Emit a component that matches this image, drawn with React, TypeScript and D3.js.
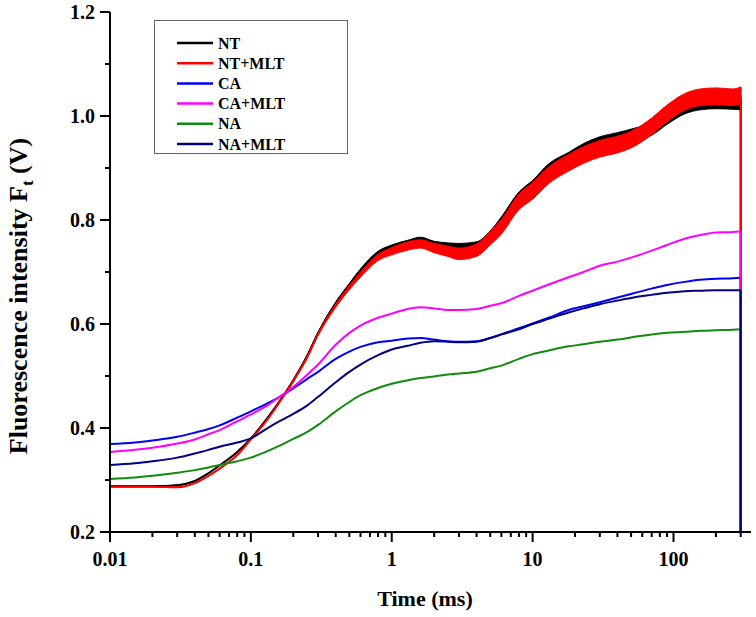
import React from "react";
import * as d3 from "d3";

// ---------- data ----------
const times = [0.01, 0.015, 0.02, 0.03, 0.04, 0.05, 0.06, 0.08, 0.1, 0.13, 0.16, 0.2, 0.25, 0.3, 0.4, 0.5, 0.6, 0.8, 1, 1.3, 1.6, 2, 2.5, 3, 4, 5, 6, 8, 10, 13, 18, 23, 30, 40, 52, 70, 90, 120, 155, 200, 265, 300];

const nt = [0.288, 0.288, 0.288, 0.29, 0.298, 0.313, 0.328, 0.354, 0.38, 0.418, 0.452, 0.492, 0.538, 0.583, 0.64, 0.675, 0.702, 0.735, 0.746, 0.755, 0.76, 0.752, 0.748, 0.746, 0.748, 0.768, 0.795, 0.842, 0.864, 0.896, 0.918, 0.935, 0.948, 0.956, 0.964, 0.975, 0.996, 1.016, 1.024, 1.026, 1.025, 1.024];
const ntMlt = [0.287, 0.287, 0.287, 0.286, 0.294, 0.308, 0.322, 0.348, 0.378, 0.415, 0.45, 0.49, 0.535, 0.58, 0.635, 0.67, 0.695, 0.728, 0.74, 0.75, 0.754, 0.746, 0.74, 0.735, 0.742, 0.765, 0.787, 0.835, 0.856, 0.886, 0.91, 0.925, 0.937, 0.945, 0.957, 0.98, 1.005, 1.027, 1.036, 1.038, 1.036, 1.04];
const ca = [0.369, 0.372, 0.376, 0.383, 0.391, 0.398, 0.405, 0.42, 0.432, 0.447, 0.46, 0.476, 0.494, 0.508, 0.533, 0.547, 0.556, 0.565, 0.568, 0.572, 0.573, 0.57, 0.567, 0.566, 0.567, 0.573, 0.58, 0.592, 0.601, 0.612, 0.627, 0.634, 0.642, 0.651, 0.659, 0.668, 0.675, 0.681, 0.685, 0.687, 0.688, 0.689];
const caMlt = [0.354, 0.358, 0.362, 0.37, 0.378, 0.388, 0.396, 0.413, 0.426, 0.443, 0.46, 0.479, 0.502, 0.522, 0.56, 0.583, 0.597, 0.612, 0.62, 0.629, 0.632, 0.63, 0.627, 0.627, 0.629, 0.635, 0.64, 0.654, 0.664, 0.676, 0.69, 0.7, 0.712, 0.72, 0.729, 0.741, 0.752, 0.764, 0.771, 0.776, 0.777, 0.778];
const na = [0.302, 0.305, 0.308, 0.314, 0.319, 0.324, 0.329, 0.336, 0.343, 0.355, 0.366, 0.379, 0.392, 0.406, 0.432, 0.45, 0.463, 0.477, 0.485, 0.492, 0.496, 0.499, 0.503, 0.505, 0.508, 0.515, 0.52, 0.533, 0.542, 0.549, 0.557, 0.561, 0.566, 0.57, 0.575, 0.58, 0.583, 0.585, 0.587, 0.588, 0.589, 0.59];
const naMlt = [0.329, 0.332, 0.336, 0.343, 0.351, 0.358, 0.364, 0.372, 0.38, 0.399, 0.413, 0.427, 0.443, 0.46, 0.488, 0.508, 0.522, 0.54, 0.551, 0.558, 0.564, 0.567, 0.566, 0.565, 0.566, 0.573, 0.58, 0.59, 0.6, 0.61, 0.622, 0.63, 0.638, 0.645, 0.651, 0.656, 0.66, 0.663, 0.664, 0.665, 0.665, 0.665];

// half-width of the noisy band of the two NT traces (V)
const ntSpread = [0, 0, 0, 0, 0, 0, 0, 0, 0, 0, 0, 0, 0.001, 0.001, 0.002, 0.003, 0.004, 0.005, 0.006, 0.006, 0.007, 0.007, 0.008, 0.009, 0.01, 0.011, 0.011, 0.012, 0.012, 0.012, 0.012, 0.012, 0.012, 0.012, 0.012, 0.012, 0.012, 0.012, 0.012, 0.012, 0.012, 0.012];
const ntMltSpread = [0, 0, 0, 0, 0, 0, 0, 0, 0, 0, 0, 0, 0.001, 0.002, 0.003, 0.004, 0.005, 0.006, 0.007, 0.008, 0.008, 0.009, 0.01, 0.011, 0.012, 0.013, 0.014, 0.015, 0.016, 0.016, 0.016, 0.016, 0.016, 0.016, 0.016, 0.016, 0.016, 0.016, 0.016, 0.016, 0.016, 0.016];

const dropValue = 0.2; // final sample falls to the axis floor

const seriesNames = ["NT", "NT+MLT", "CA", "CA+MLT", "NA", "NA+MLT"];
const seriesColors = ["#000000", "#ff0000", "#0000ff", "#ff00ff", "#108a10", "#000080"];
const seriesValues = [nt, ntMlt, ca, caMlt, na, naMlt];
const seriesSpreads: (number[] | null)[] = [ntSpread, ntMltSpread, null, null, null, null];

const yTicks = [0.2, 0.4, 0.6, 0.8, 1.0, 1.2];
const yMinorTicks = [0.3, 0.5, 0.7, 0.9, 1.1];
const xTicks = [0.01, 0.1, 1, 10, 100];
const xTickLabels = ["0.01", "0.1", "1", "10", "100"];
const xMinorTicks = [0.02, 0.03, 0.04, 0.05, 0.06, 0.07, 0.08, 0.09, 0.2, 0.3, 0.4, 0.5, 0.6, 0.7, 0.8, 0.9, 2, 3, 4, 5, 6, 7, 8, 9, 20, 30, 40, 50, 60, 70, 80, 90, 200, 300];

const xDomain = [0.01, 355];
const yDomain = [0.2, 1.2];

// ---------- chart ----------
const W = 756;
const H = 617;
const left = 110;
const right = 751;
const top = 12;
const bottom = 532;
const FONT = "'Liberation Serif', 'Times New Roman', serif";

export default function App() {
  const x = d3.scaleLog().domain(xDomain).range([left, right]);
  const y = d3.scaleLinear().domain(yDomain).range([bottom, top]);

  const line = d3
    .line<number>()
    .x((_, i) => x(times[i]))
    .y((v) => y(v))
    .curve(d3.curveMonotoneX);

  const drop = d3
    .line<[number, number]>()
    .x((d) => x(d[0]))
    .y((d) => y(d[1]));

  const lastT = times[times.length - 1];

  return (
    <svg
      width={W}
      height={H}
      style={{ position: "absolute", left: 0, top: 0, background: "#fff" }}
      fontFamily={FONT}
      fontWeight="bold"
    >
      <rect x={0} y={0} width={W} height={H} fill="#fff" />

      {/* series */}
      {seriesValues.map((vals, si) => {
        const spread = seriesSpreads[si];
        const color = seriesColors[si];
        let band: string | null = null;
        if (spread) {
          const area = d3
            .area<number>()
            .x((_, i) => x(times[i]))
            .y0((v, i) => y(v - spread[i]))
            .y1((v, i) => y(v + spread[i]))
            .curve(d3.curveMonotoneX);
          band = area(vals);
        }
        const last = vals[vals.length - 1];
        return (
          <g key={seriesNames[si]}>
            {band && <path d={band} fill={color} stroke={color} strokeWidth={1} />}
            <path d={line(vals) || ""} fill="none" stroke={color} strokeWidth={2} />
            <path
              d={drop([[lastT, last + (spread ? spread[spread.length - 1] : 0)], [lastT, dropValue]]) || ""}
              fill="none"
              stroke={color}
              strokeWidth={2}
            />
          </g>
        );
      })}

      {/* axes */}
      <line x1={left} x2={left} y1={top} y2={bottom} stroke="#000" strokeWidth={2} />
      <line x1={left - 1} x2={right} y1={bottom} y2={bottom} stroke="#000" strokeWidth={2} />

      {yTicks.map((t) => (
        <g key={"yt" + t}>
          <line x1={left - 10} x2={left} y1={y(t)} y2={y(t)} stroke="#000" strokeWidth={2} />
          <text x={left - 15} y={y(t)} dy="0.35em" textAnchor="end" fontSize={20}>
            {d3.format(".1f")(t)}
          </text>
        </g>
      ))}
      {yMinorTicks.map((t) => (
        <line key={"ym" + t} x1={left - 5} x2={left} y1={y(t)} y2={y(t)} stroke="#000" strokeWidth={2} />
      ))}

      {xTicks.map((t, i) => (
        <g key={"xt" + t}>
          <line x1={x(t)} x2={x(t)} y1={bottom} y2={bottom + 10} stroke="#000" strokeWidth={2} />
          <text x={x(t)} y={566} textAnchor="middle" fontSize={20}>
            {xTickLabels[i]}
          </text>
        </g>
      ))}
      {xMinorTicks.map((t) => (
        <line key={"xm" + t} x1={x(t)} x2={x(t)} y1={bottom} y2={bottom + 5} stroke="#000" strokeWidth={2} />
      ))}

      {/* axis titles */}
      <text x={(left + 740) / 2} y={606} textAnchor="middle" fontSize={22}>
        Time (ms)
      </text>
      <text transform={`translate(27, ${(top + bottom) / 2 + 24}) rotate(-90)`} textAnchor="middle" fontSize={26}>
        Fluorescence intensity F
        <tspan fontSize={17} dy={6}>t</tspan>
        <tspan dy={-6}> (V)</tspan>
      </text>

      {/* legend */}
      <rect x={154.5} y={20.5} width={193} height={133} fill="#fff" stroke="#666" strokeWidth={1} />
      {seriesNames.map((name, i) => {
        const ly = 43 + i * 20.2;
        return (
          <g key={"lg" + name}>
            <line x1={177} x2={213} y1={ly} y2={ly} stroke={seriesColors[i]} strokeWidth={2.5} />
            <text x={218} y={ly} dy="0.35em" fontSize={16}>
              {name}
            </text>
          </g>
        );
      })}
    </svg>
  );
}
